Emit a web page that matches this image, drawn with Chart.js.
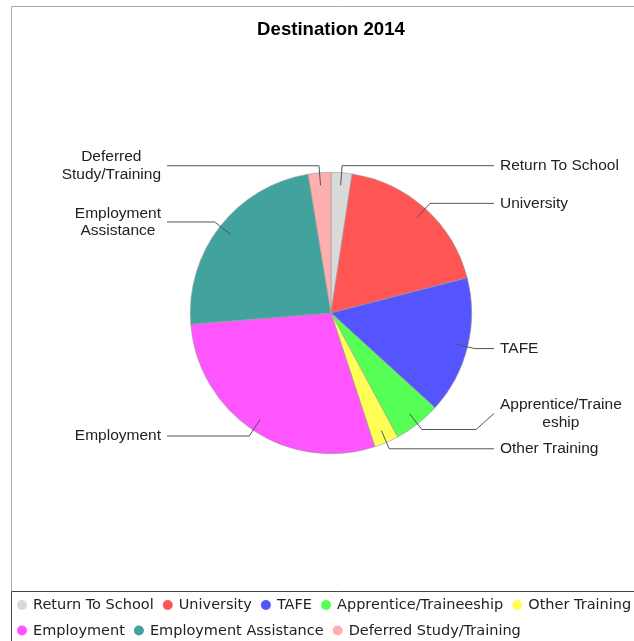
<!DOCTYPE html>
<html><head><meta charset="utf-8">
<script src="https://cdn.jsdelivr.net/npm/chart.js@4"></script>
<style>html,body{margin:0;padding:0;overflow:hidden;background:#fff}canvas{display:block}</style>
</head><body>
<canvas id="c" width="662" height="641"></canvas>
<script>
const titleText = 'Destination 2014';
const categories = ['Return To School','University','TAFE','Apprentice/Traineeship','Other Training','Employment','Employment Assistance','Deferred Study/Training'];
const values = [2.4, 18.6, 15.8, 5.4, 2.8, 28.8, 23.7, 2.6];
const colors = ['#DADADA','#FF5555','#5555FF','#55FF55','#FFFF55','#FF55FF','#42A39E','#FFAFAF'];

const W = 662, H = 641;
const LABEL_FONT = '15.5px "Liberation Sans", Arial, sans-serif';
const TITLE_FONT = 'bold 18.6px "Liberation Sans", Arial, sans-serif';
const LEGEND_FONT = '14.5px "DejaVu Sans", sans-serif';

function wrapText(ctx, text, maxW) {
  const words = text.split(' ');
  const lines = [];
  let cur = '';
  for (const w of words) {
    const trial = cur ? cur + ' ' + w : w;
    if (ctx.measureText(trial).width <= maxW) { cur = trial; continue; }
    if (cur) { lines.push(cur); cur = ''; }
    if (ctx.measureText(w).width <= maxW) { cur = w; continue; }
    let part = '';
    for (const ch of w) {
      if (ctx.measureText(part + ch).width > maxW && part) { lines.push(part); part = ch; }
      else part += ch;
    }
    cur = part;
  }
  if (cur) lines.push(cur);
  return lines;
}

const framePlugin = {
  id: 'frame',
  beforeDraw(chart) {
    const ctx = chart.ctx;
    ctx.save();
    ctx.fillStyle = '#fff';
    ctx.fillRect(0, 0, W, H);
    ctx.strokeStyle = '#a8a8a8';
    ctx.lineWidth = 1;
    ctx.beginPath();
    ctx.moveTo(11.5, 591); ctx.lineTo(11.5, 6.5); ctx.lineTo(W + 5, 6.5);
    ctx.stroke();
    ctx.fillStyle = '#000';
    ctx.font = TITLE_FONT;
    ctx.textAlign = 'center';
    ctx.textBaseline = 'middle';
    ctx.fillText(titleText, W / 2, 30);
    ctx.restore();
  }
};

const labelPlugin = {
  id: 'pieLabels',
  afterDatasetsDraw(chart) {
    const ctx = chart.ctx;
    const arcs = chart.getDatasetMeta(0).data;
    ctx.save();
    ctx.font = LABEL_FONT;
    const lineH = 17.5;
    const items = arcs.map((a, i) => {
      const mid = (a.startAngle + a.endAngle) / 2;
      const R = a.outerRadius;
      const ax = a.x + Math.cos(mid) * R * 0.91, ay = a.y + Math.sin(mid) * R * 0.91;
      const kx = a.x + Math.cos(mid) * R * 1.05, ky = a.y + Math.sin(mid) * R * 1.05;
      const right = Math.cos(mid) >= 0;
      const lines = wrapText(ctx, categories[i], 126);
      const h = lines.length * lineH;
      return { i, ax, ay, kx, ky, right, lines, h, ly: ky };
    });
    [true, false].forEach(side => {
      const s = items.filter(it => it.right === side).sort((p, q) => q.ly - p.ly);
      for (let k = 1; k < s.length; k++) {
        const below = s[k - 1], cur = s[k];
        const maxY = below.ly - below.h / 2 - 9 - cur.h / 2;
        if (cur.ly > maxY) cur.ly = maxY;
      }
    });
    const colR = 494, colL = 167;
    ctx.strokeStyle = '#555';
    ctx.lineWidth = 1;
    items.forEach(it => {
      const colX = it.right ? colR : colL;
      ctx.beginPath();
      ctx.moveTo(it.ax, it.ay);
      ctx.lineTo(it.kx, it.ky);
      if (Math.abs(it.ly - it.ky) > 0.5) {
        ctx.lineTo(it.right ? colX - 18 : colX + 18, it.ky);
        ctx.lineTo(colX, it.ly);
      } else {
        ctx.lineTo(colX, it.ky);
      }
      ctx.stroke();
      const widths = it.lines.map(l => ctx.measureText(l).width);
      const bw = Math.max(...widths);
      const left = it.right ? colX + 6 : colX - 6 - bw;
      const cx = left + bw / 2;
      ctx.fillStyle = '#222';
      ctx.textAlign = 'center';
      ctx.textBaseline = 'middle';
      it.lines.forEach((l, j) => {
        ctx.fillText(l, cx, it.ly - it.h / 2 + lineH * (j + 0.5));
      });
    });
    ctx.restore();
  },
  afterDraw(chart) {
    const ctx = chart.ctx;
    ctx.save();
    ctx.strokeStyle = '#444';
    ctx.lineWidth = 1;
    ctx.beginPath();
    ctx.moveTo(11.5, H + 5); ctx.lineTo(11.5, 591.5); ctx.lineTo(W + 5, 591.5);
    ctx.stroke();
    ctx.font = LEGEND_FONT;
    ctx.textBaseline = 'middle';
    ctx.textAlign = 'left';
    let x = 17, y = 605;
    categories.forEach((c, i) => {
      const w = ctx.measureText(c).width;
      if (x + 16 + w > W) { x = 17; y += 25.5; }
      ctx.beginPath();
      ctx.arc(x + 5, y, 5, 0, Math.PI * 2);
      ctx.fillStyle = colors[i];
      ctx.fill();
      ctx.fillStyle = '#222';
      ctx.fillText(c, x + 16, y + 0.5);
      x = x + 16 + w + 9;
    });
    ctx.restore();
  }
};

new Chart(document.getElementById('c'), {
  type: 'pie',
  data: {
    labels: categories,
    datasets: [{
      data: values,
      backgroundColor: colors,
      borderColor: '#9a9a9a',
      borderWidth: 0.6
    }]
  },
  options: {
    responsive: false,
    animation: false,
    layout: { padding: { top: 172, bottom: 187, left: 190, right: 190 } },
    plugins: { legend: { display: false }, title: { display: false }, tooltip: { enabled: false } }
  },
  plugins: [framePlugin, labelPlugin]
});
</script>
</body></html>
